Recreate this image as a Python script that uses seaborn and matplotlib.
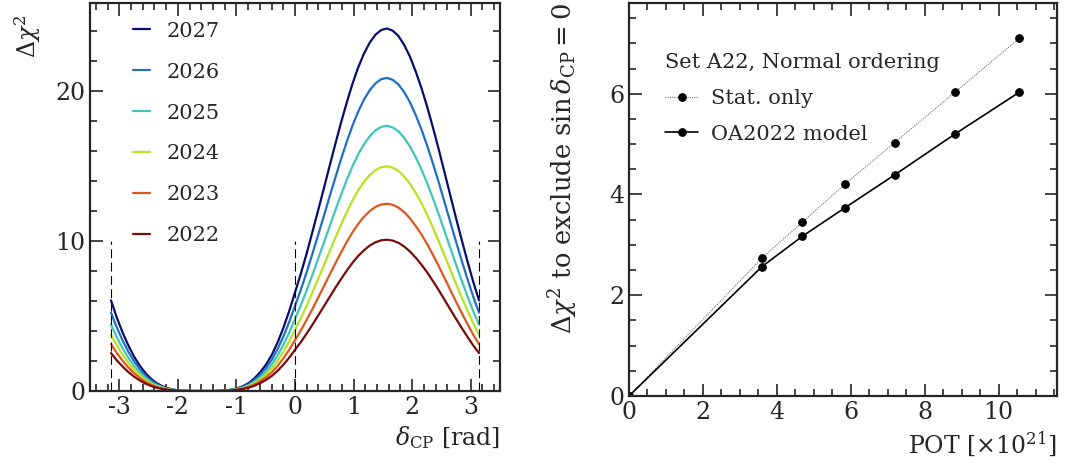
import numpy as np
import pandas as pd
import seaborn as sns
import matplotlib.pyplot as plt
from matplotlib.lines import Line2D
from matplotlib.ticker import MultipleLocator

sns.set_style("ticks")
plt.rcParams['font.family'] = ['DejaVu Serif']
plt.rcParams['mathtext.fontset'] = 'dejavuserif'
plt.rcParams['axes.linewidth'] = 1.6

# left panel: delta chi2 vs delta_CP (step pi/32)
delta_cp = np.linspace(-np.pi, np.pi, 65)
years = ["2027", "2026", "2025", "2024", "2023", "2022"]
chi2_2027 = [6.05, 4.91, 3.92, 3.05, 2.30, 1.69, 1.19, 0.80, 0.51, 0.31, 0.17, 0.08, 0.03, 0.01, 0, 0, 0,
             0, 0, 0.01, 0.04, 0.09, 0.18, 0.33, 0.54, 0.87, 1.28, 1.79, 2.44, 3.27, 4.24, 5.35, 6.58,
             7.82, 9.15, 10.58, 12.03, 13.50, 15.00, 16.48, 17.91, 19.26, 20.52, 21.61, 22.53, 23.26, 23.79, 24.10, 24.20,
             24.05, 23.69, 23.09, 22.31, 21.32, 20.21, 18.95, 17.57, 16.12, 14.59, 13.07, 11.54, 10.07, 8.64, 7.28, 6.05]
chi2_2026 = [5.23, 4.24, 3.39, 2.63, 1.99, 1.46, 1.02, 0.69, 0.44, 0.27, 0.15, 0.07, 0.03, 0.01, 0, 0, 0,
             0, 0, 0.01, 0.03, 0.08, 0.16, 0.28, 0.47, 0.75, 1.11, 1.55, 2.11, 2.82, 3.66, 4.62, 5.68,
             6.75, 7.90, 9.13, 10.39, 11.66, 12.96, 14.23, 15.47, 16.64, 17.72, 18.66, 19.46, 20.08, 20.54, 20.82, 20.90,
             20.77, 20.46, 19.94, 19.27, 18.41, 17.45, 16.36, 15.17, 13.92, 12.60, 11.29, 9.97, 8.69, 7.46, 6.29, 5.23]
chi2_2025 = [4.43, 3.59, 2.87, 2.23, 1.68, 1.24, 0.87, 0.58, 0.37, 0.23, 0.12, 0.06, 0.02, 0.01, 0, 0, 0,
             0, 0, 0.01, 0.03, 0.07, 0.13, 0.24, 0.40, 0.64, 0.94, 1.31, 1.79, 2.39, 3.10, 3.91, 4.81,
             5.72, 6.69, 7.73, 8.80, 9.88, 10.97, 12.05, 13.10, 14.09, 15.01, 15.81, 16.48, 17.01, 17.40, 17.63, 17.70,
             17.59, 17.33, 16.89, 16.32, 15.59, 14.78, 13.86, 12.85, 11.79, 10.67, 9.56, 8.44, 7.36, 6.32, 5.33, 4.43]
chi2_2024 = [3.75, 3.05, 2.43, 1.89, 1.43, 1.05, 0.74, 0.50, 0.32, 0.20, 0.11, 0.05, 0.02, 0.01, 0, 0, 0,
             0, 0, 0.01, 0.02, 0.06, 0.11, 0.20, 0.34, 0.54, 0.80, 1.11, 1.52, 2.03, 2.63, 3.32, 4.08,
             4.85, 5.67, 6.56, 7.46, 8.37, 9.30, 10.22, 11.10, 11.94, 12.72, 13.40, 13.97, 14.42, 14.75, 14.94, 15.00,
             14.91, 14.69, 14.31, 13.83, 13.22, 12.53, 11.75, 10.89, 9.99, 9.05, 8.10, 7.16, 6.24, 5.36, 4.52, 3.75]
chi2_2023 = [3.13, 2.54, 2.03, 1.58, 1.19, 0.88, 0.61, 0.41, 0.26, 0.16, 0.09, 0.04, 0.02, 0.01, 0, 0, 0,
             0, 0, 0.01, 0.02, 0.05, 0.09, 0.17, 0.28, 0.45, 0.66, 0.93, 1.26, 1.69, 2.19, 2.76, 3.40,
             4.04, 4.73, 5.46, 6.21, 6.98, 7.75, 8.51, 9.25, 9.95, 10.60, 11.16, 11.64, 12.01, 12.29, 12.45, 12.50,
             12.43, 12.24, 11.93, 11.53, 11.01, 10.44, 9.79, 9.08, 8.33, 7.54, 6.75, 5.96, 5.20, 4.46, 3.76, 3.13]
chi2_2022 = [2.53, 2.05, 1.64, 1.27, 0.96, 0.71, 0.49, 0.33, 0.21, 0.13, 0.07, 0.04, 0.01, 0.01, 0, 0, 0,
             0, 0, 0.01, 0.02, 0.04, 0.08, 0.14, 0.23, 0.36, 0.54, 0.75, 1.02, 1.36, 1.77, 2.23, 2.75,
             3.26, 3.82, 4.41, 5.02, 5.64, 6.26, 6.88, 7.47, 8.04, 8.56, 9.02, 9.40, 9.71, 9.93, 10.06, 10.10,
             10.04, 9.89, 9.64, 9.31, 8.90, 8.43, 7.91, 7.33, 6.73, 6.09, 5.45, 4.82, 4.20, 3.61, 3.04, 2.53]
colors = ["#0b0b6e", "#1f6fc4", "#3ec6b8", "#b5e31f", "#e0561f", "#7a0b0b"]

# right panel: sensitivity vs POT
pot = [0, 3.6, 4.69, 5.85, 7.19, 8.82, 10.56]
stat_only = [0, 2.74, 3.45, 4.21, 5.03, 6.03, 7.10]
oa2022 = [0, 2.57, 3.17, 3.74, 4.39, 5.20, 6.03]

frames = []
for yr, vals in zip(years, [chi2_2027, chi2_2026, chi2_2025, chi2_2024, chi2_2023, chi2_2022]):
    frames.append(pd.DataFrame(dict(delta=delta_cp, chi2=vals, year=yr)))
df = pd.concat(frames, ignore_index=True)

fig = plt.figure(figsize=(10.73, 4.72), dpi=100)
ax1 = fig.add_axes([0.0839, 0.1716, 0.3821, 0.822])
ax2 = fig.add_axes([0.5862, 0.161, 0.3989, 0.8326])

sns.lineplot(data=df, x="delta", y="chi2", hue="year", palette=dict(zip(years, colors)),
             hue_order=years, lw=1.6, ax=ax1, legend=False)
ax1.vlines([-np.pi, 0, np.pi], 0, 10, colors="k", linestyles=(0, (8, 4)), lw=0.8)
ax1.set_xlim(-3.5, 3.5)
ax1.set_ylim(0, 25.9)
ax1.xaxis.set_minor_locator(MultipleLocator(0.2))
ax1.yaxis.set_major_locator(MultipleLocator(10))
ax1.yaxis.set_minor_locator(MultipleLocator(2))
ax1.set_xticks([-3, -2, -1, 0, 1, 2, 3])
ax1.set_xticklabels(["-3", "-2", "-1", "0", "1", "2", "3"])
ax1.set_xlabel(r"$\delta_{\rm CP}$ [rad]", loc="right", fontsize=17)
ax1.set_ylabel(r"$\Delta\chi^2$", loc="top", fontsize=17)
ax1.yaxis.set_label_coords(-0.115, 0.97, transform=ax1.transAxes)
handles = [Line2D([], [], color=c, lw=1.6) for c in colors]
ax1.legend(handles, years, loc="upper left", bbox_to_anchor=(0.06, 1.0), frameon=False,
           fontsize=15, handlelength=0.8, labelspacing=1.05, handletextpad=0.8)

sns.lineplot(x=pot, y=stat_only, ax=ax2, color="#777777", lw=0.8, ls=(0, (1, 1)),
             marker="o", ms=5.5, mfc="k", mec="k", label="Stat. only")
sns.lineplot(x=pot, y=oa2022, ax=ax2, color="k", lw=1.2,
             marker="o", ms=5.5, mfc="k", mec="k", label="OA2022 model")
ax2.set_xlim(0, 11.58)
ax2.set_ylim(0, 7.8)
ax2.xaxis.set_major_locator(MultipleLocator(2))
ax2.xaxis.set_minor_locator(MultipleLocator(0.5))
ax2.yaxis.set_major_locator(MultipleLocator(2))
ax2.yaxis.set_minor_locator(MultipleLocator(0.5))
ax2.set_xlabel(r"POT [$\times10^{21}$]", loc="right", fontsize=17)
ax2.set_ylabel(r"$\Delta\chi^2$ to exclude $\sin\delta_{\rm CP} = 0$", loc="top", fontsize=18.5)
ax2.yaxis.set_label_coords(-0.115, 1.0, transform=ax2.transAxes)
leg = ax2.legend(loc="upper left", bbox_to_anchor=(0.04, 0.92), frameon=False, fontsize=15,
                 title="Set A22, Normal ordering", title_fontsize=15, alignment="left",
                 handlelength=1.6, labelspacing=0.8, handletextpad=0.6)

for ax in (ax1, ax2):
    ax.tick_params(which="both", direction="in", top=True, right=True, labelsize=17, width=1.2)
    ax.tick_params(which="major", length=9)
    ax.tick_params(which="minor", length=5)

plt.savefig("out.png", dpi=100)
